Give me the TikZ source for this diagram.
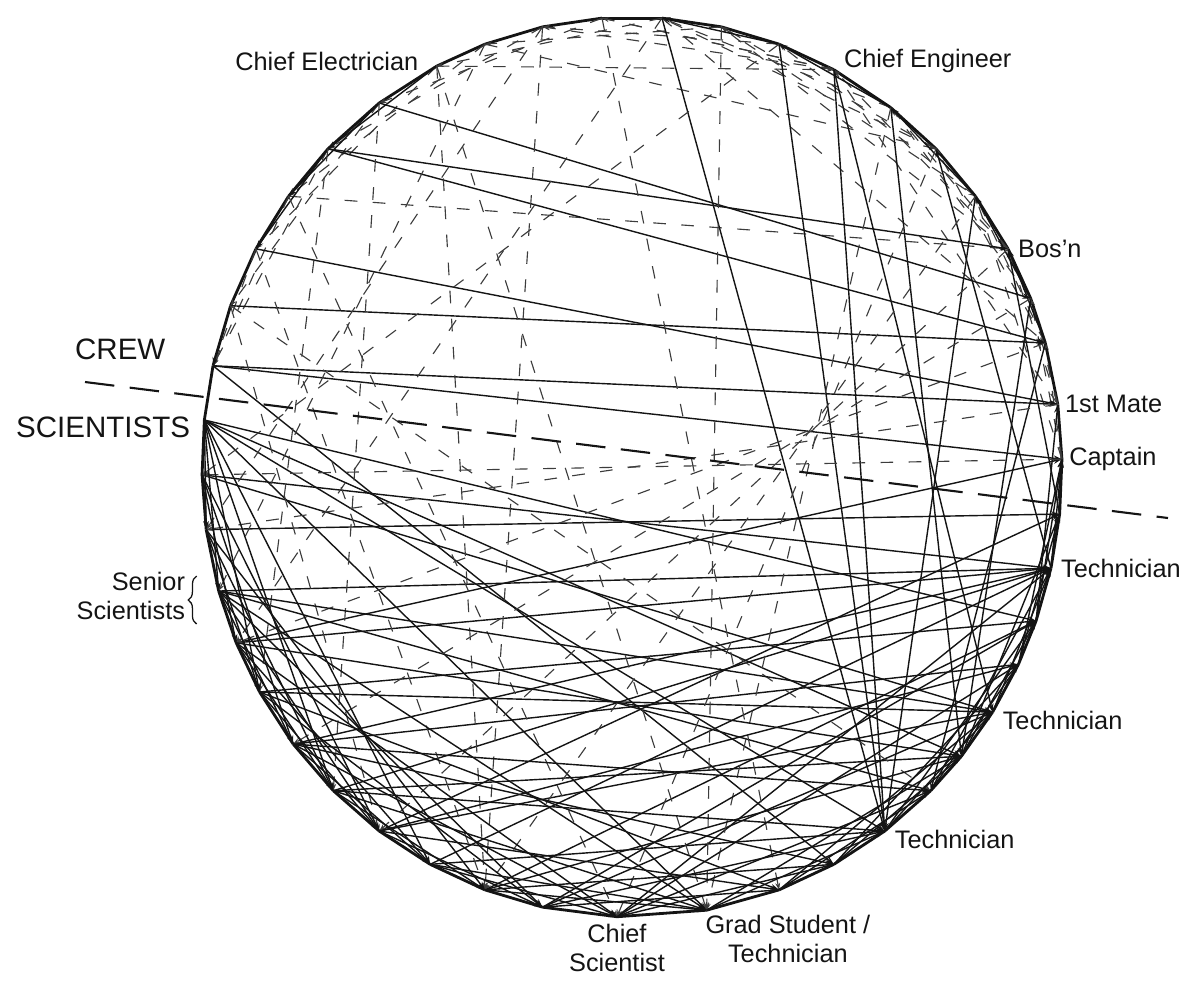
\documentclass[tikz,border=0pt]{standalone}
\usepackage{fontspec}
\setmainfont{Liberation Sans}
\usetikzlibrary{arrows.meta, positioning, calc, decorations.pathreplacing}
\definecolor{InkBlack}{RGB}{20, 20, 20}
\definecolor{InkGray}{RGB}{60, 60, 60}

\begin{document}
\begin{tikzpicture}[
    x=0.025cm, y=-0.025cm,
    every node/.style={font=\fontsize{18}{21}\selectfont, text=InkBlack, inner sep=1pt},
    group/.style={font=\fontsize{21}{24}\selectfont},
    rim/.style={draw=InkBlack, line width=2pt, line join=round},
    tie/.style={-{Stealth[length=6pt, width=4pt]}, draw=InkBlack, line width=1pt},
    faint/.style={-{Stealth[length=5pt, width=3.5pt]}, draw=InkGray, line width=0.8pt, dash pattern=on 9pt off 11pt},
    divider/.style={draw=InkBlack, line width=1.5pt, dash pattern=on 21pt off 11pt},
    brc/.style={draw=InkBlack, line width=0.9pt, decorate, decoration={brace, amplitude=6pt}}
  ]
    \useasboundingbox (0,0) rectangle (1182,982);

    % Members on the ring (crew: 1--22, scientists: 23--46)
    \foreach \ang [count=\i] in {1,8,16,22,29,37,45,53,62,70,78,86,94,102,110,117,126,135,143,151,159,167,
                                174,181,188,196,203,210,218,226,234,242,250,258,268,280,290,298,306,314,320,327,334,340,347,354}
      \coordinate (n\i) at ({632+430*cos(\ang)},{467-450*sin(\ang)});

    % Ring
    \foreach \i [remember=\i as \prev (initially 46)] in {1,...,46}
      \draw[rim] (n\prev) -- (n\i);

    % Crew among themselves
    \foreach \a/\b in {1/3,1/4,1/6,2/4,2/5,2/9,3/6,3/7,4/8,5/8,5/9,5/11,6/10,7/11,7/12,8/12,9/13,9/14,10/14,
                       11/15,12/16,13/17,14/18,15/19,16/20,17/21,18/22,19/22,20/22,16/9,13/9,11/6,19/5,15/7,12/3}
      \draw[faint] (n\a) -- (n\b);
    \foreach \a/\b in {18/3,18/5,17/4,20/2,21/3,22/1,22/2,16/18,17/19,18/20,21/22,3/5,4/6,6/8,8/10,10/12}
      \draw[tie] (n\a) -- (n\b);

    % Crew -- scientists
    \foreach \a/\b in {23/39,23/36,23/41,23/44,24/45,24/42,25/46,26/45,26/40,27/1,27/45,28/44,28/42,29/45,29/43,
                       30/45,30/41,31/46,31/42,32/45,33/44,32/39,34/42,35/45,22/38,12/39,10/39,9/39,9/42,8/41,
                       3/40,4/41,6/39,46/5,45/7,44/2,43/1}
      \draw[tie] (n\a) -- (n\b);
    \foreach \a/\b in {21/40,20/33,19/35,16/33,16/36,14/33,13/37,11/36,8/36,7/35,6/33,5/31,4/29,3/27,2/25,1/24,
                       21/31,17/30,18/28,15/26,12/27,10/24,14/25}
      \draw[faint] (n\a) -- (n\b);

    % Scientists among themselves
    \foreach \a/\b in {23/25,23/26,23/28,23/30,23/32,24/27,24/29,24/31,25/28,25/30,25/33,26/29,26/31,26/34,26/36,
                       27/30,27/32,27/35,28/31,28/34,28/37,29/32,29/35,29/38,30/33,30/36,30/39,31/34,31/37,32/35,
                       32/36,33/36,33/38,34/37,34/39,35/38,35/40,36/39,36/41,37/40,37/42,38/41,38/43,39/42,39/44,
                       40/43,40/45,41/44,41/46,42/45,43/46,44/1,45/1,26/42,27/41,29/40,31/43,33/41,34/44,35/43}
      \draw[tie] (n\a) -- (n\b);

    % Crew / scientists split
    \coordinate (cutW) at (85,382);
    \coordinate (cutE) at (1168,518);
    \draw[divider] (cutW) -- (cutE);

    % Labels
    \node[group, anchor=east] (crew) at ($(n22)+(-46,-16)$) {CREW};
    \node[group, left=9pt of n23, yshift=-5pt] (sci) {SCIENTISTS};
    \node[left=12pt of n16, yshift=3pt] (elec) {Chief Electrician};
    \node[right=6pt of n9, yshift=6pt] (eng) {Chief Engineer};
    \node[right=6pt of n5] (bosn) {Bos’n};
    \node[right=4pt of n2] (mate) {1st Mate};
    \node[right=4pt of n1] (capt) {Captain};
    \node[right=6pt of n45] (techA) {Technician};
    \node[right=6pt of n42, yshift=-6pt] (techB) {Technician};
    \node[right=6pt of n39, yshift=-6pt] (techC) {Technician};
    \node[below right=2pt and -2pt of n36, align=center] (grad) {Grad Student /\\Technician};
    \node[below=4pt of n35, align=center] (chsci) {Chief\\Scientist};
    \node[anchor=east, align=right] (senior) at ($(n26)+(-32,5)$) {Senior\\Scientists};
    \draw[brc] ($(senior.east)+(10,28)$) -- ($(senior.east)+(10,-20)$);
  \end{tikzpicture}
\end{document}
